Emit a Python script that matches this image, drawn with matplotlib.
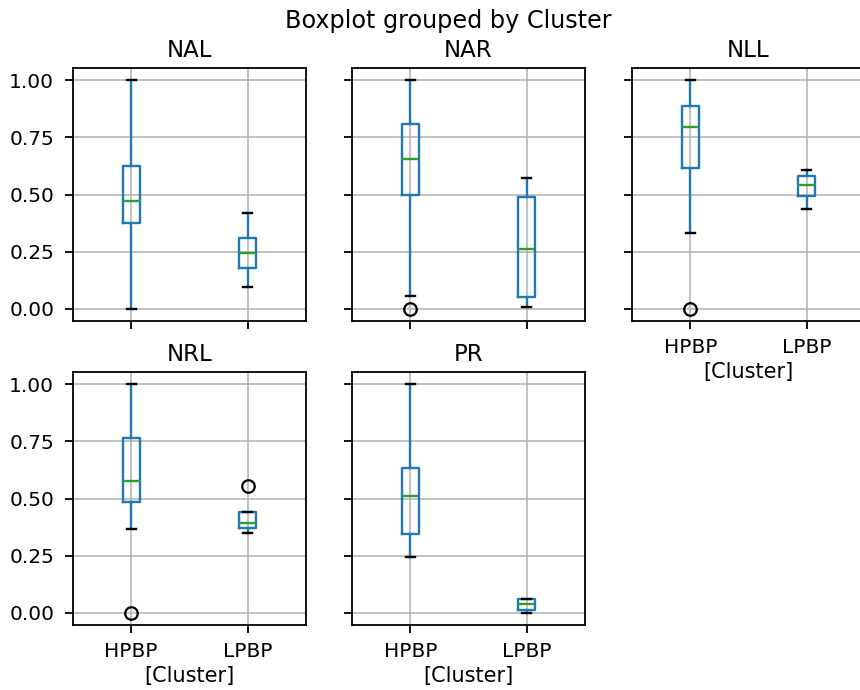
import matplotlib
matplotlib.use("Agg")
import matplotlib.pyplot as plt

# data (box stats per variable, per cluster)
groups = ['NAL', 'NAR', 'NLL', 'NRL', 'PR']
clusters = ['HPBP', 'LPBP']

hpbp_lo = [0.0, 0.057, 0.330, 0.366, 0.244]
hpbp_q1 = [0.374, 0.499, 0.616, 0.484, 0.347]
hpbp_med = [0.472, 0.654, 0.793, 0.577, 0.512]
hpbp_q3 = [0.624, 0.808, 0.886, 0.765, 0.632]
hpbp_hi = [1.0, 1.0, 1.0, 1.0, 1.0]
hpbp_fliers = [[], [0.0], [0.0], [0.0], []]

lpbp_lo = [0.095, 0.010, 0.438, 0.349, 0.0]
lpbp_q1 = [0.180, 0.052, 0.495, 0.369, 0.015]
lpbp_med = [0.243, 0.263, 0.541, 0.391, 0.041]
lpbp_q3 = [0.309, 0.489, 0.579, 0.442, 0.0625]
lpbp_hi = [0.418, 0.571, 0.606, 0.442, 0.0625]
lpbp_fliers = [[], [], [], [0.554], []]

yticks = [0.0, 0.25, 0.5, 0.75, 1.0]

blue = '#1f77b4'
green = '#2ca02c'
lw = 1.7

fig = plt.figure(figsize=(8.6, 6.9), dpi=100)

# axes positions in pixels (left, top) for a 860x690 canvas; right column runs off the edge
W, H = 860.0, 690.0
aw, ah = 233.0, 253.0
slots = [(73, 68), (352, 68), (632, 68), (73, 372), (352, 372)]

axes = []
for i, (px, py) in enumerate(slots):
    rect = [px / W, 1 - (py + ah) / H, aw / W, ah / H]
    if i == 0:
        ax = fig.add_axes(rect)
    else:
        ax = fig.add_axes(rect, sharey=axes[0])
    axes.append(ax)

for i, ax in enumerate(axes):
    stats = [
        dict(med=hpbp_med[i], q1=hpbp_q1[i], q3=hpbp_q3[i],
             whislo=hpbp_lo[i], whishi=hpbp_hi[i], fliers=hpbp_fliers[i]),
        dict(med=lpbp_med[i], q1=lpbp_q1[i], q3=lpbp_q3[i],
             whislo=lpbp_lo[i], whishi=lpbp_hi[i], fliers=lpbp_fliers[i]),
    ]
    ax.bxp(stats, positions=[1, 2], widths=0.15,
           boxprops=dict(color=blue, linewidth=lw),
           whiskerprops=dict(color=blue, linewidth=lw),
           capprops=dict(color='black', linewidth=lw),
           medianprops=dict(color=green, linewidth=lw),
           flierprops=dict(marker='o', markerfacecolor='none',
                           markeredgecolor='black', markersize=9,
                           markeredgewidth=1.6))
    ax.set_xlim(0.5, 2.5)
    ax.set_xticks([1, 2])
    ax.set_xticklabels(clusters)
    ax.set_yticks(yticks)
    ax.set_yticklabels(['%.2f' % v for v in yticks])
    ax.set_ylim(-0.0525, 1.0525)
    ax.grid(True, color='#b0b0b0', linewidth=1.1)
    ax.set_axisbelow(True)
    ax.set_title(groups[i], fontsize=16.5, pad=8)
    for s in ax.spines.values():
        s.set_linewidth(1.3)
    ax.tick_params(axis='both', labelsize=14.5, length=6, width=1.3)
    ax.tick_params(axis='x', pad=6)
    ax.tick_params(axis='y', pad=7.5)
    if i not in (0, 3):
        ax.tick_params(axis='y', labelleft=False)
    if i in (0, 1):
        ax.tick_params(axis='x', labelbottom=False)
    else:
        ax.set_xlabel('[Cluster]', fontsize=15, labelpad=4)

fig.text(448 / W, 1 - 28 / H, 'Boxplot grouped by Cluster', fontsize=17.2,
         ha='center', va='baseline')

fig.savefig('out.png', dpi=100)
